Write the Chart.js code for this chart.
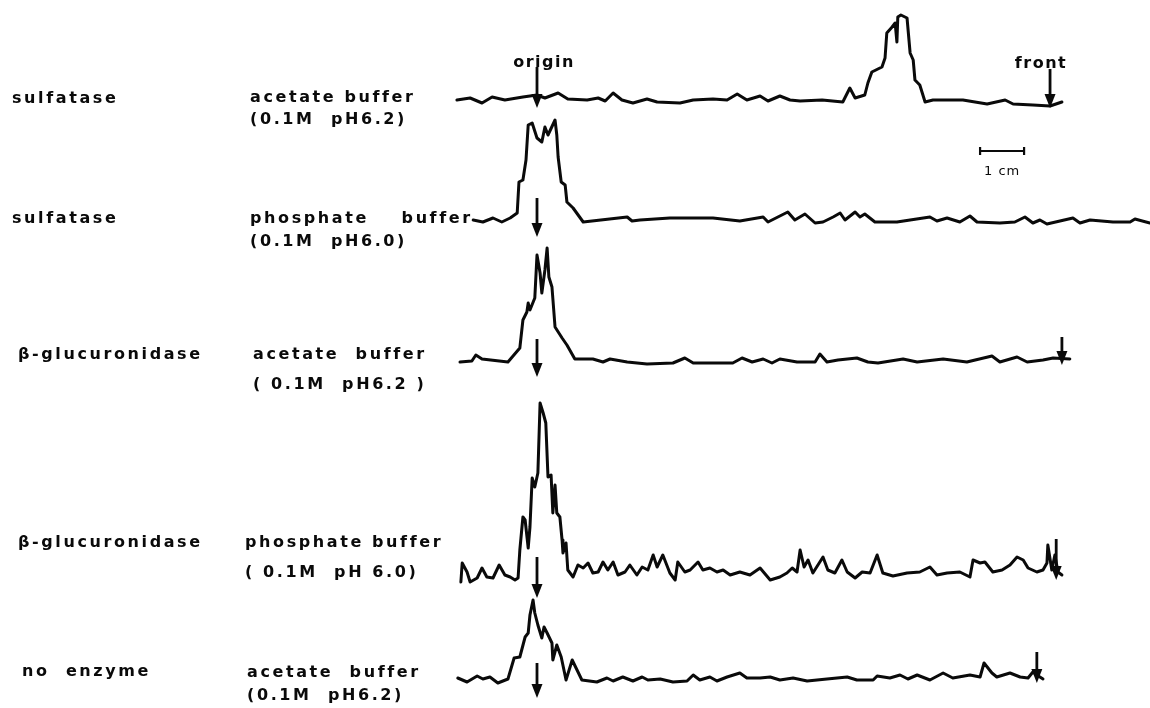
<!DOCTYPE html>
<html>
<head>
<meta charset="utf-8">
<script src="https://cdn.jsdelivr.net/npm/chart.js@4"></script>
<style>
  body { margin: 0; background: #fff; }
  #wrap { width: 1150px; height: 708px; }
</style>
</head>
<body>
<div id="wrap"><canvas id="scanChart"></canvas></div>
<script>
// distance from origin (cm) and trace height (arbitrary units)
const t1x = [-1.82,-1.52,-1.25,-1.02,-0.73,-0.32,0,0.18,0.48,0.70,1.14,1.39,1.55,1.73,1.93,2.18,2.50,2.73,3.25,3.55,4.00,4.32,4.55,4.77,5.07,5.25,5.52,5.75,5.98,6.48,6.95,7.11,7.23,7.45,7.52,7.61,7.84,7.91,7.95,8.07,8.14,8.18,8.20,8.27,8.41,8.48,8.55,8.59,8.70,8.82,9.00,9.68,10.23,10.64,10.82,11.27,11.66,11.93];
const t1h = [1,3,-2,4,1,4,6,3,8,2,1,3,0,8,1,-2,2,-1,-2,1,2,1,7,1,5,0,5,1,0,1,-1,13,3,6,18,29,34,43,68,74,78,59,84,86,83,48,41,21,16,-1,1,1,-3,1,-3,-4,-5,-1];

const t2x = [-1.45,-1.23,-1.00,-0.80,-0.61,-0.45,-0.41,-0.32,-0.25,-0.20,-0.11,0,0.11,0.18,0.25,0.41,0.45,0.48,0.55,0.64,0.68,0.82,1.05,2.05,2.16,2.34,3.02,3.48,4.00,4.61,5.14,5.25,5.70,5.86,6.09,6.32,6.50,6.73,6.89,7.00,7.23,7.34,7.45,7.68,8.18,8.93,9.09,9.32,9.61,9.84,10.00,10.52,10.86,11.09,11.27,11.43,11.59,12.18,12.34,12.57,13.09,13.48,13.59,13.93];
const t2h = [1,-1,3,-1,3,8,39,41,61,96,98,83,79,94,86,101,86,64,39,36,19,13,-1,4,0,1,3,3,3,0,4,-1,9,1,7,-2,-1,4,8,1,9,4,7,-1,-1,4,0,3,-1,5,-1,-2,-1,4,-2,1,-3,3,-2,1,-1,-1,2,-2];

const t3x = [-1.75,-1.48,-1.39,-1.25,-0.66,-0.39,-0.32,-0.23,-0.20,-0.16,-0.05,0,0.07,0.11,0.18,0.23,0.27,0.34,0.41,0.57,0.68,0.86,1.27,1.50,1.66,2.05,2.50,3.09,3.36,3.55,4.45,4.66,4.89,5.14,5.34,5.52,5.91,6.32,6.43,6.59,6.84,7.27,7.52,7.75,8.32,8.64,9.23,9.77,10.34,10.52,10.91,11.14,11.50,11.73,12.11];
const t3h = [0,1,7,3,0,14,42,50,59,52,64,107,89,69,92,114,85,75,35,24,17,3,3,0,3,0,-2,-1,4,-1,-1,4,0,3,-1,3,0,0,8,0,2,4,0,-1,3,0,3,0,6,0,5,0,2,4,3];

const t4x = [-1.73,-1.70,-1.59,-1.52,-1.36,-1.25,-1.14,-1.00,-0.86,-0.73,-0.61,-0.50,-0.43,-0.39,-0.32,-0.27,-0.20,-0.16,-0.11,-0.05,0.02,0.07,0.14,0.20,0.25,0.32,0.36,0.41,0.45,0.52,0.57,0.59,0.66,0.70,0.82,0.93,1.05,1.16,1.27,1.39,1.50,1.61,1.73,1.84,2.00,2.11,2.27,2.39,2.52,2.64,2.73,2.86,3.02,3.14,3.20,3.36,3.48,3.66,3.77,3.93,4.09,4.23,4.39,4.61,4.84,5.07,5.30,5.52,5.68,5.80,5.91,5.98,6.07,6.16,6.27,6.50,6.61,6.77,6.93,7.05,7.23,7.39,7.57,7.73,7.86,8.09,8.41,8.70,8.93,9.09,9.32,9.61,9.84,9.91,10.07,10.18,10.36,10.57,10.75,10.91,11.05,11.16,11.36,11.50,11.59,11.61,11.70,11.77,11.84,11.93];
const t4h = [-5,14,5,-5,-1,9,0,-1,12,2,0,-3,-1,27,60,57,29,50,99,90,104,174,164,154,100,102,64,92,64,60,37,24,34,7,0,12,9,14,4,5,15,7,15,2,5,12,2,10,7,22,10,22,4,-3,15,5,7,15,7,9,5,7,2,5,2,9,-3,0,4,9,5,27,10,17,4,20,7,4,17,5,-1,5,4,22,4,1,4,5,10,2,4,5,0,17,14,15,5,7,12,20,17,9,5,7,14,32,7,22,5,2];

const t5x = [-1.80,-1.59,-1.36,-1.23,-1.07,-0.89,-0.66,-0.52,-0.39,-0.27,-0.20,-0.16,-0.09,-0.05,0.02,0.11,0.16,0.23,0.34,0.36,0.45,0.55,0.66,0.80,0.91,1.02,1.36,1.59,1.73,1.95,2.18,2.39,2.52,2.80,3.09,3.41,3.55,3.70,3.93,4.09,4.32,4.61,4.77,5.07,5.30,5.52,5.82,6.14,6.59,7.05,7.27,7.64,7.73,8.02,8.25,8.43,8.64,8.93,9.23,9.45,9.84,10.07,10.16,10.34,10.45,10.75,10.98,11.16,11.27,11.43,11.50];
const t5h = [2,-2,4,1,3,-3,1,22,23,43,47,65,80,67,55,42,53,47,37,20,35,23,0,20,10,0,-2,2,-1,3,-1,3,0,1,-2,-1,5,0,3,-1,3,7,2,2,3,0,2,-1,1,3,0,0,4,2,5,1,5,0,7,2,5,3,17,7,3,7,3,2,8,3,1];

const traceX = [t1x, t2x, t3x, t4x, t5x];
const traceH = [t1h, t2h, t3h, t4h, t5h];

// solvent front position (cm from origin) per scan, null where not marked
const frontAt = [11.66, null, 11.93, 11.80, 11.36];

const enzymes = ["sulfatase", "sulfatase", "\u03b2-glucuronidase", "\u03b2-glucuronidase", "no  enzyme"];
const buffers = ["acetate buffer", "phosphate    buffer", "acetate  buffer", "phosphate buffer", "acetate  buffer"];
const conditions = ["(0.1M  pH6.2)", "(0.1M  pH6.0)", "( 0.1M  pH6.2 )", "( 0.1M  pH 6.0)", "(0.1M  pH6.2)"];

// layout: baseline of each scan on the vertical scale, and label rows in px
const baselines = [607, 487, 346, 131, 28];
const enzymeRow = [[12, 99], [12, 219], [18, 355], [18, 543], [22, 672]];
const bufferRow = [[250, 98], [250, 219], [253, 355], [245, 543], [247, 673]];
const condRow = [[250, 120], [250, 242], [253, 385], [245, 573], [247, 696]];
// origin arrow top/bottom and front arrow top/bottom (height units)
const originArrow = [[34, -7], [23, -16], [23, -15], [20, -21], [17, -18]];
const frontArrow = [[32, -7], null, [25, -3], [38, -3], [28, -3]];

const ink = "#0a0a0a";

const datasets = traceX.map((xs, i) => ({
  data: xs.map((x, j) => ({ x: x, y: baselines[i] + traceH[i][j] })),
  borderColor: ink,
  borderWidth: 3,
  pointRadius: 0,
  tension: 0,
  borderJoinStyle: "round",
  borderCapStyle: "round"
}));

function arrow(ctx, x, yTop, yBot) {
  ctx.beginPath();
  ctx.moveTo(x, yTop);
  ctx.lineTo(x, yBot - 10);
  ctx.stroke();
  ctx.beginPath();
  ctx.moveTo(x - 5.5, yBot - 14);
  ctx.lineTo(x + 5.5, yBot - 14);
  ctx.lineTo(x, yBot);
  ctx.closePath();
  ctx.fill();
}

const annotations = {
  id: "annotations",
  afterDatasetsDraw(chart) {
    const ctx = chart.ctx;
    const xs = chart.scales.x;
    const ys = chart.scales.y;
    ctx.save();
    ctx.strokeStyle = ink;
    ctx.fillStyle = ink;
    ctx.lineWidth = 2.8;

    baselines.forEach((b, i) => {
      const ox = xs.getPixelForValue(0);
      arrow(ctx, ox, ys.getPixelForValue(b + originArrow[i][0]), ys.getPixelForValue(b + originArrow[i][1]));
      if (frontAt[i] !== null) {
        const fx = xs.getPixelForValue(frontAt[i]);
        arrow(ctx, fx, ys.getPixelForValue(b + frontArrow[i][0]), ys.getPixelForValue(b + frontArrow[i][1]));
      }
    });

    // 1 cm scale bar
    const sx0 = xs.getPixelForValue(10.07);
    const sx1 = xs.getPixelForValue(11.07);
    ctx.lineWidth = 2.2;
    ctx.beginPath();
    ctx.moveTo(sx0, 151); ctx.lineTo(sx1, 151);
    ctx.moveTo(sx0, 147); ctx.lineTo(sx0, 155);
    ctx.moveTo(sx1, 147); ctx.lineTo(sx1, 155);
    ctx.stroke();

    ctx.textBaseline = "middle";
    ctx.textAlign = "center";
    ctx.font = "13px 'DejaVu Sans'";
    ctx.letterSpacing = "1px";
    ctx.fillText("1 cm", (sx0 + sx1) / 2, 172);

    ctx.font = "bold 16px 'DejaVu Sans'";
    ctx.letterSpacing = "1.5px";
    ctx.fillText("origin", 544, 63);
    ctx.fillText("front", 1041, 64);

    ctx.textAlign = "left";
    ctx.letterSpacing = "2.6px";
    enzymes.forEach((t, i) => ctx.fillText(t, enzymeRow[i][0], enzymeRow[i][1]));
    buffers.forEach((t, i) => ctx.fillText(t, bufferRow[i][0], bufferRow[i][1]));
    conditions.forEach((t, i) => ctx.fillText(t, condRow[i][0], condRow[i][1]));
    ctx.restore();
  }
};

new Chart(document.getElementById("scanChart"), {
  type: "line",
  data: { datasets: datasets },
  options: {
    responsive: true,
    maintainAspectRatio: false,
    animation: false,
    layout: { padding: 0 },
    plugins: { legend: { display: false }, tooltip: { enabled: false } },
    scales: {
      x: { type: "linear", min: -537 / 44, max: 613 / 44, display: false },
      y: { min: 0, max: 708, display: false }
    }
  },
  plugins: [annotations]
});
</script>
</body>
</html>
